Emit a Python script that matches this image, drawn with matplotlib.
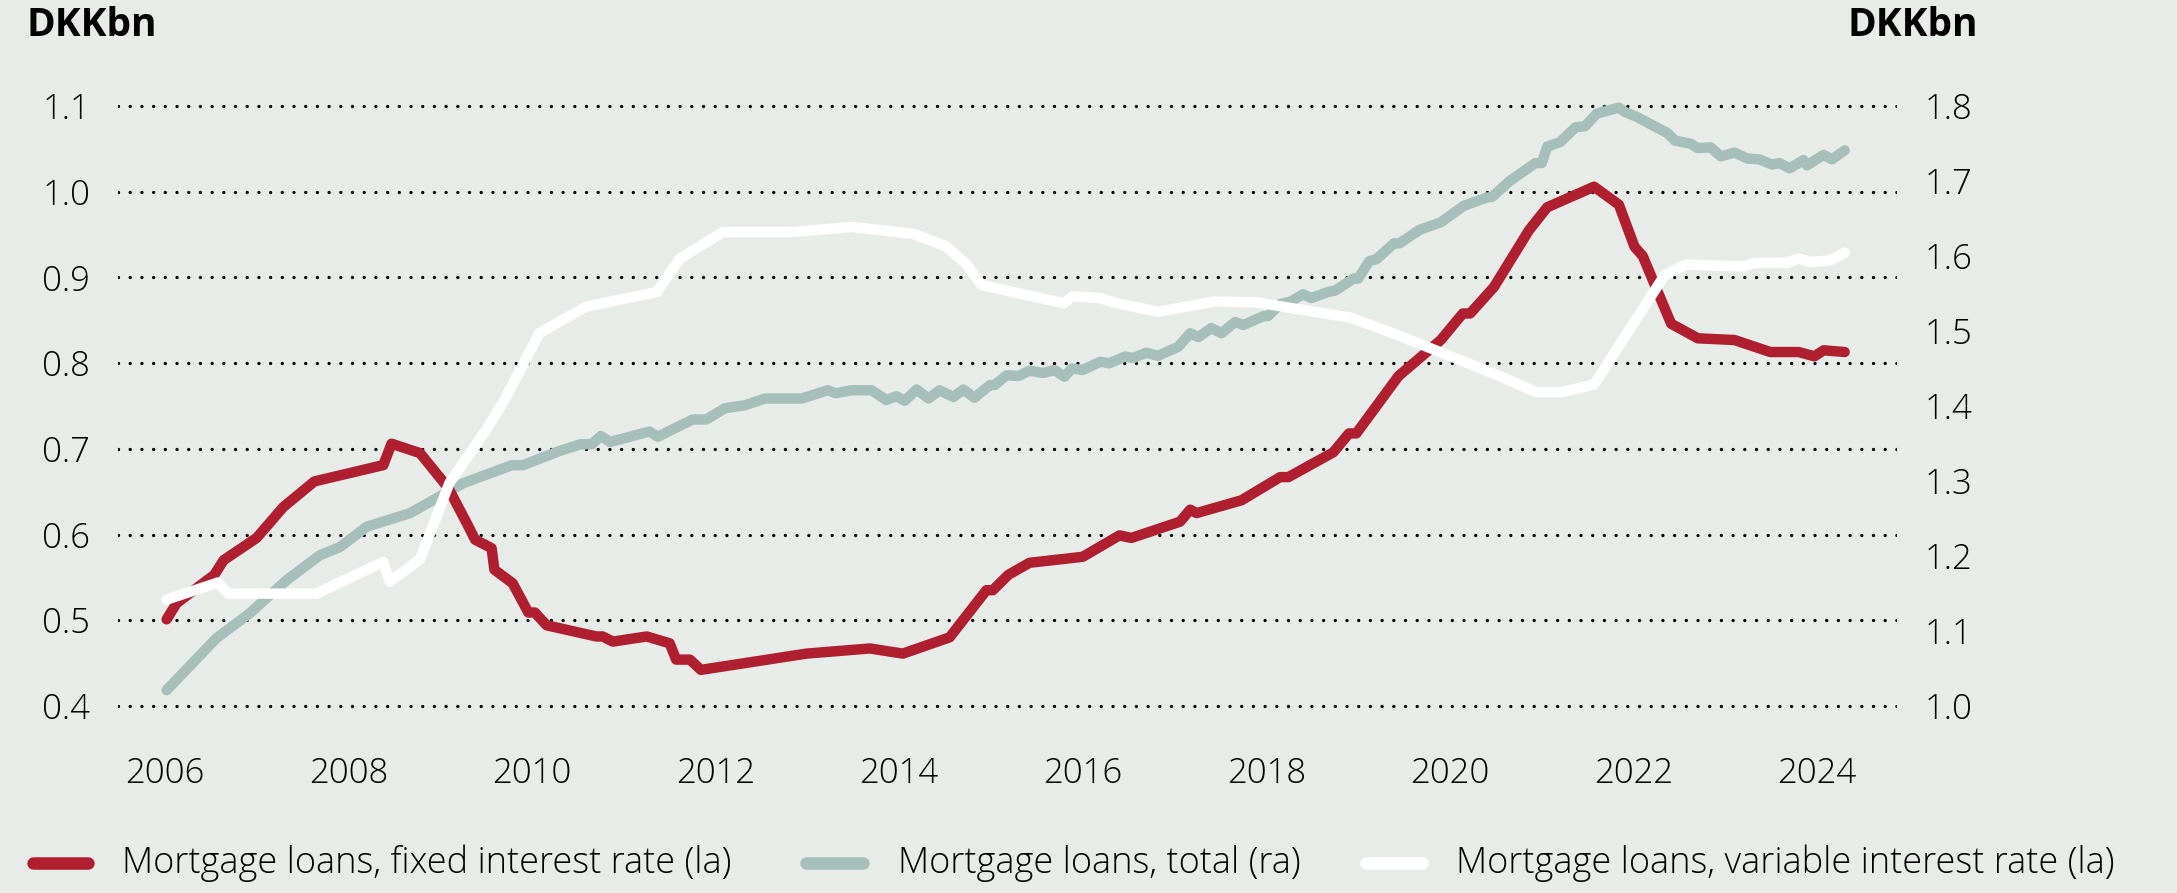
import matplotlib
matplotlib.use("Agg")
import matplotlib.pyplot as plt
from matplotlib.lines import Line2D
import numpy as np

#### data ####
fixed_x = [2006.02, 2006.13, 2006.54, 2006.64, 2007.0, 2007.29, 2007.63, 2008.38, 2008.47,
           2008.78, 2009.09, 2009.30, 2009.38, 2009.56, 2009.59, 2009.79, 2009.96, 2010.03,
           2010.16, 2010.70, 2010.77, 2010.88, 2011.25, 2011.50, 2011.57, 2011.72, 2011.84,
           2012.99, 2013.68, 2014.04, 2014.55, 2014.95, 2015.02, 2015.19, 2015.42, 2016.0,
           2016.40, 2016.53, 2017.06, 2017.17, 2017.24, 2017.73, 2018.15, 2018.24, 2018.73,
           2018.90, 2018.98, 2019.44, 2019.90, 2020.14, 2020.22, 2020.48, 2020.86, 2021.06,
           2021.57, 2021.84, 2022.01, 2022.10, 2022.41, 2022.70, 2023.10, 2023.49, 2023.80,
           2023.97, 2024.07, 2024.30]
fixed_y = [0.501, 0.520, 0.553, 0.570, 0.596, 0.632, 0.662, 0.681, 0.706,
           0.695, 0.654, 0.611, 0.594, 0.584, 0.559, 0.543, 0.509, 0.509,
           0.494, 0.481, 0.481, 0.475, 0.481, 0.473, 0.454, 0.454, 0.442,
           0.461, 0.467, 0.461, 0.480, 0.535, 0.535, 0.553, 0.567, 0.574,
           0.599, 0.596, 0.615, 0.629, 0.625, 0.640, 0.667, 0.667, 0.696,
           0.718, 0.718, 0.785, 0.827, 0.858, 0.858, 0.889, 0.955, 0.982,
           1.006, 0.985, 0.936, 0.925, 0.846, 0.829, 0.827, 0.813, 0.813,
           0.808, 0.815, 0.813]

variable_x = [2006.02, 2006.58, 2006.69, 2007.65, 2008.38, 2008.45, 2008.78, 2009.10, 2009.50,
              2009.70, 2010.08, 2010.59, 2011.36, 2011.61, 2012.08, 2012.84, 2013.48, 2014.15,
              2014.50, 2014.73, 2014.90, 2015.79, 2015.89, 2016.19, 2016.37, 2016.82, 2017.44,
              2017.89, 2018.92, 2019.45, 2020.54, 2020.94, 2021.21, 2021.57, 2022.34, 2022.57,
              2023.20, 2023.32, 2023.66, 2023.80, 2023.93, 2024.14, 2024.30]
variable_y = [0.524, 0.544, 0.531, 0.531, 0.568, 0.545, 0.571, 0.660, 0.722,
              0.757, 0.835, 0.866, 0.883, 0.922, 0.953, 0.953, 0.959, 0.951,
              0.937, 0.916, 0.891, 0.870, 0.878, 0.876, 0.870, 0.860, 0.872,
              0.871, 0.853, 0.832, 0.785, 0.766, 0.766, 0.775, 0.903, 0.915,
              0.913, 0.917, 0.917, 0.922, 0.918, 0.920, 0.929]

total_x = [2006.02, 2006.56, 2006.93, 2007.33, 2007.69, 2007.91, 2008.20, 2008.67, 2009.25,
           2009.78, 2009.90, 2010.30, 2010.53, 2010.65, 2010.75, 2010.85, 2011.28, 2011.37,
           2011.75, 2011.90, 2012.10, 2012.32, 2012.54, 2012.94, 2013.22, 2013.31, 2013.48,
           2013.70, 2013.86, 2013.97, 2014.06, 2014.19, 2014.32, 2014.44, 2014.59, 2014.70,
           2014.82, 2014.99, 2015.04, 2015.17, 2015.30, 2015.42, 2015.57, 2015.69, 2015.80,
           2015.88, 2016.00, 2016.19, 2016.29, 2016.46, 2016.55, 2016.69, 2016.82, 2017.04,
           2017.17, 2017.26, 2017.40, 2017.51, 2017.66, 2017.75, 2017.97, 2018.02, 2018.15,
           2018.26, 2018.40, 2018.49, 2018.67, 2018.75, 2018.95, 2019.00, 2019.12, 2019.20,
           2019.39, 2019.45, 2019.67, 2019.90, 2020.15, 2020.40, 2020.46, 2020.65, 2020.93,
           2021.00, 2021.06, 2021.20, 2021.37, 2021.47, 2021.60, 2021.84, 2021.91, 2022.03,
           2022.37, 2022.45, 2022.62, 2022.70, 2022.84, 2022.95, 2023.10, 2023.24, 2023.37,
           2023.51, 2023.59, 2023.70, 2023.85, 2023.89, 2024.07, 2024.16, 2024.30]
total_y = [1.021, 1.090, 1.124, 1.168, 1.201, 1.212, 1.239, 1.257, 1.297,
           1.321, 1.321, 1.340, 1.349, 1.349, 1.360, 1.352, 1.366, 1.359,
           1.382, 1.382, 1.397, 1.401, 1.410, 1.410, 1.421, 1.417, 1.421,
           1.421, 1.408, 1.413, 1.407, 1.422, 1.410, 1.421, 1.412, 1.422,
           1.411, 1.428, 1.428, 1.441, 1.440, 1.447, 1.444, 1.448, 1.439,
           1.450, 1.448, 1.459, 1.457, 1.466, 1.464, 1.471, 1.467, 1.479,
           1.497, 1.492, 1.504, 1.497, 1.512, 1.508, 1.520, 1.520, 1.536,
           1.539, 1.549, 1.544, 1.552, 1.554, 1.570, 1.570, 1.593, 1.596,
           1.617, 1.617, 1.635, 1.645, 1.667, 1.678, 1.679, 1.700, 1.724,
           1.724, 1.746, 1.752, 1.772, 1.773, 1.790, 1.798, 1.792, 1.786,
           1.764, 1.754, 1.750, 1.744, 1.745, 1.733, 1.738, 1.730, 1.729,
           1.722, 1.724, 1.717, 1.728, 1.721, 1.735, 1.729, 1.741]

years = [2006, 2008, 2010, 2012, 2014, 2016, 2018, 2020, 2022, 2024]
left_ticks = [0.4, 0.5, 0.6, 0.7, 0.8, 0.9, 1.0, 1.1]
right_ticks = [1.0, 1.1, 1.2, 1.3, 1.4, 1.5, 1.6, 1.7, 1.8]

labels = ["Mortgage loans, fixed interest rate (la)",
          "Mortgage loans, total (ra)",
          "Mortgage loans, variable interest rate (la)"]

#### style ####
bg = "#e8ece9"
red = "#b01f2f"
grey = "#a6bfba"
white = "#ffffff"
fnt = "Open Sans"
W, H = 2177, 893

fig = plt.figure(figsize=(W / 100, H / 100), dpi=100, facecolor=bg)
ax = fig.add_axes([118 / W, 1 - 723 / H, (1897 - 118) / W, (723 - 89) / H])
ax.set_facecolor(bg)
ax2 = ax.twinx()

ax.set_xlim(2005.49, 2024.87)
ax.set_ylim(0.38, 1.12)
ax2.set_ylim(1.0 + (0.38 - 0.4) * 8 / 7, 1.0 + (1.12 - 0.4) * 8 / 7)

# dotted grid
for v in left_ticks:
    ax.axhline(v, color="black", lw=2.4, linestyle=(0, (0.01, 3.5)),
               dash_capstyle="round", zorder=1)

lkw = dict(lw=7.5, solid_capstyle="round", solid_joinstyle="round")
# total on right axis but drawn underneath the others
ax.plot(total_x, total_y, color=grey, transform=ax2.transData, zorder=2, **lkw)
ax.plot(fixed_x, fixed_y, color=red, zorder=3, **lkw)
ax.plot(variable_x, variable_y, color=white, zorder=4, **lkw)

for a in (ax, ax2):
    for s in a.spines.values():
        s.set_visible(False)
    a.tick_params(length=0, labelsize=25, pad=20)

ax.set_xticks(years)
ax.set_xticklabels([str(y) for y in years], fontfamily=fnt, fontweight="light")
ax.set_yticks(left_ticks)
ax.set_yticklabels(["%.1f" % v for v in left_ticks], fontfamily=fnt, fontweight="light")
ax2.set_yticks(right_ticks)
ax2.set_yticklabels(["%.1f" % v for v in right_ticks], fontfamily=fnt, fontweight="light")
ax.tick_params(axis="x", pad=24)

fig.text(26 / W, 1 - 6 / H, "DKKbn", fontsize=28, fontweight="bold", fontfamily=fnt,
         va="top", ha="left")
fig.text(1978 / W, 1 - 6 / H, "DKKbn", fontsize=28, fontweight="bold", fontfamily=fnt,
         va="top", ha="right")

# legend
ly = 1 - 863 / H
for (x0, x1, xt), c, lab in zip([(33, 88, 122), (806, 863, 898), (1366, 1422, 1456)],
                                [red, grey, white], labels):
    fig.add_artist(Line2D([x0 / W, x1 / W], [ly, ly], transform=fig.transFigure,
                          color=c, lw=9, solid_capstyle="round"))
    fig.text(xt / W, ly, lab, fontsize=26, fontfamily=fnt, fontweight="light",
             va="center", ha="left")

fig.savefig("out.png", dpi=100, facecolor=bg)
